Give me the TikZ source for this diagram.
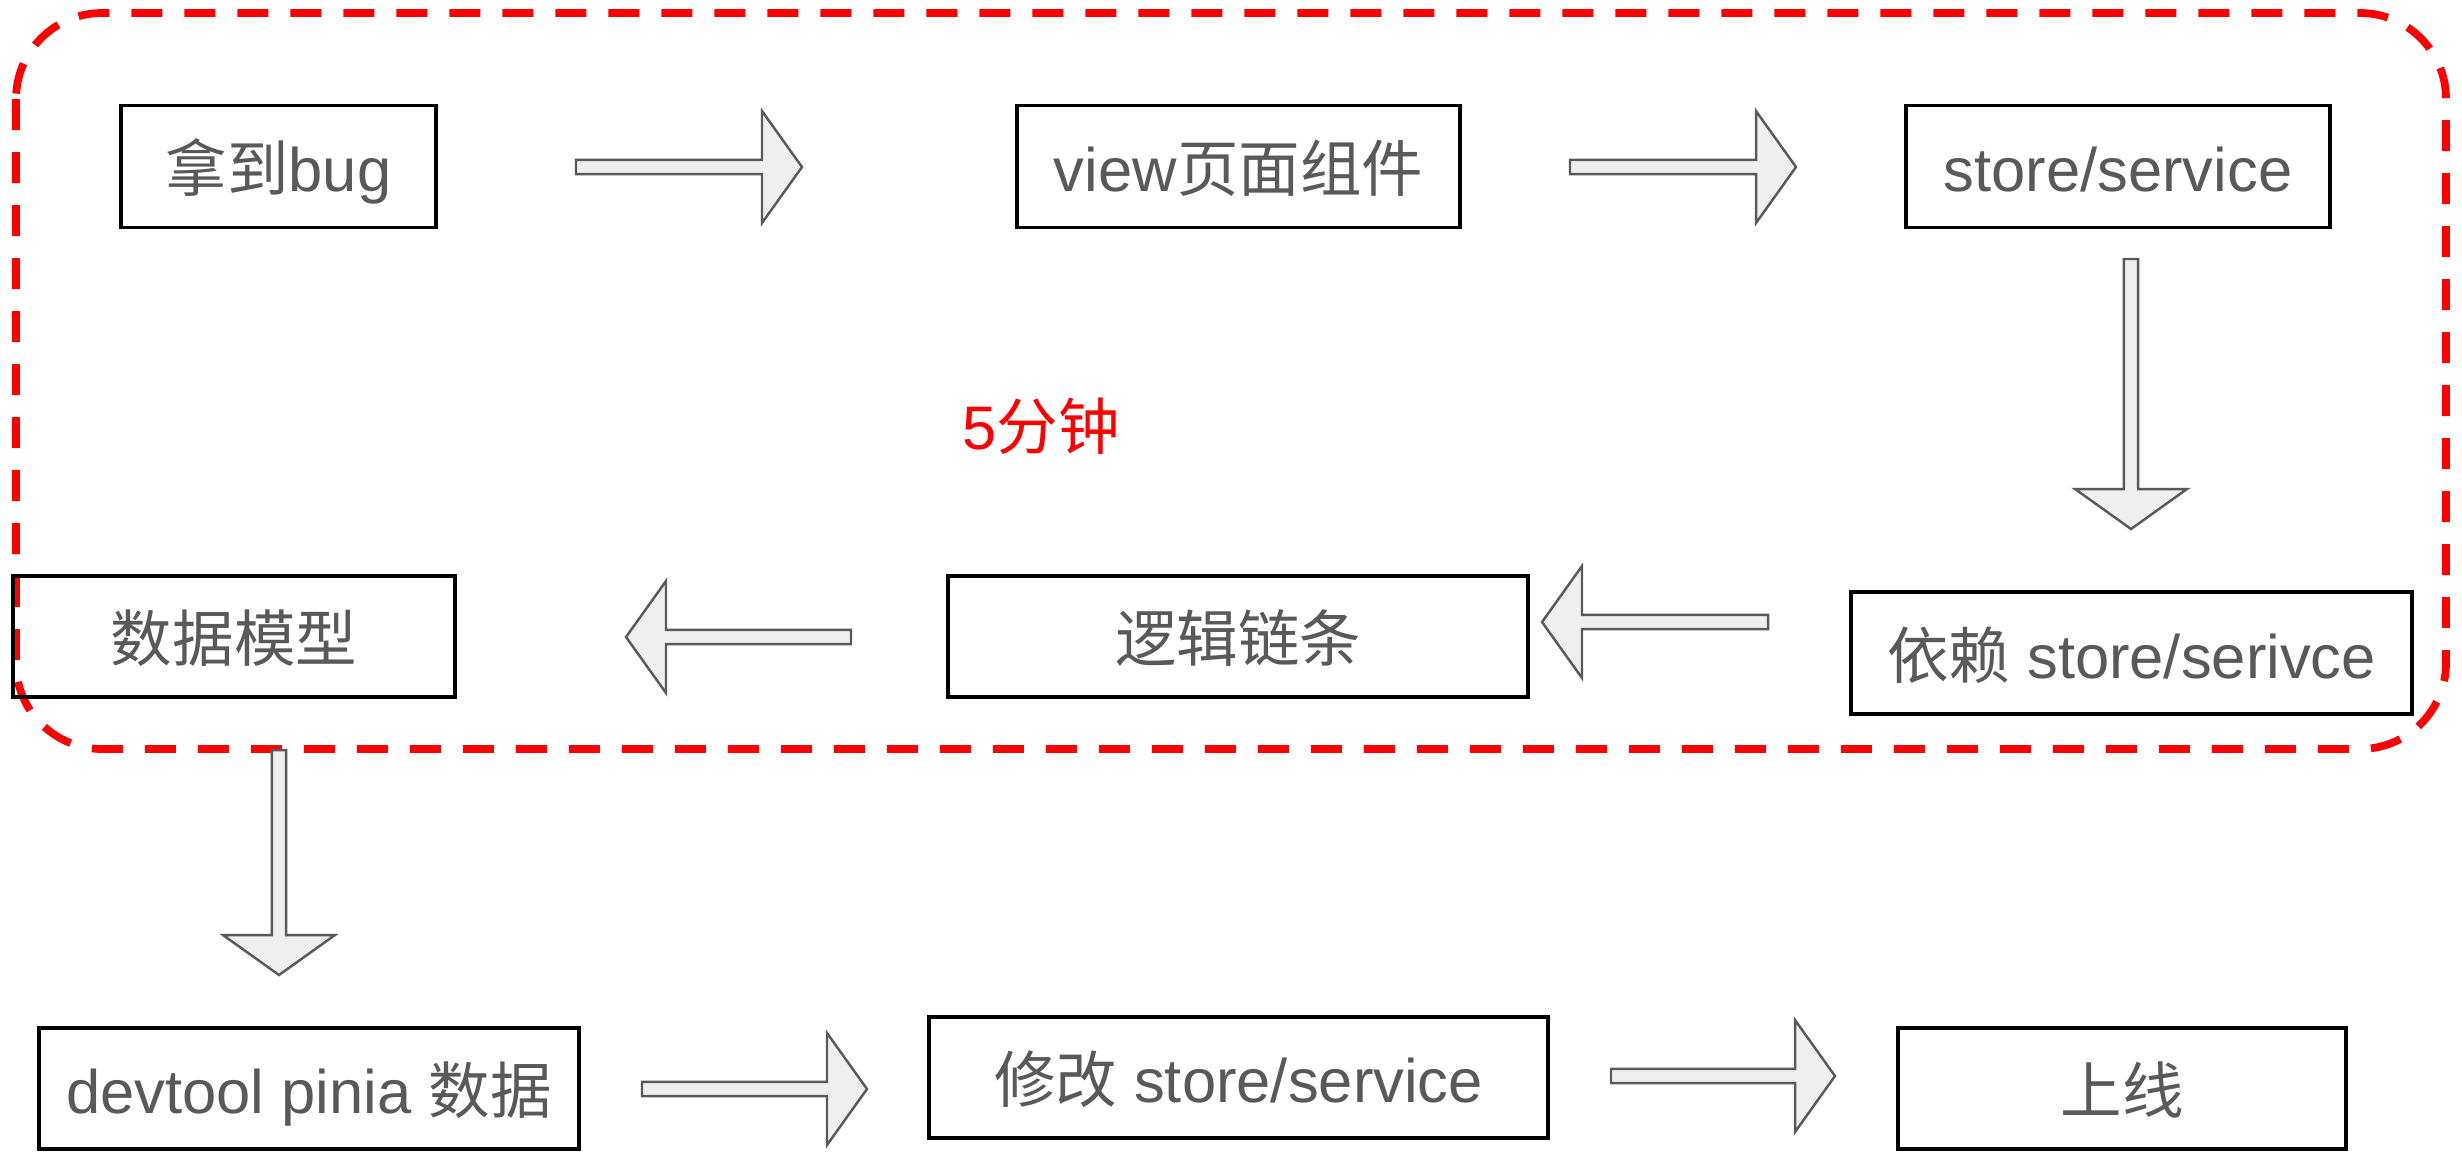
\documentclass[tikz,border=0pt]{standalone}
\usepackage{fontspec}
\setmainfont{Liberation Sans}
\newfontfamily\cjk{Noto Sans CJK SC}
\usetikzlibrary{calc}
\definecolor{textgray}{HTML}{595959}
\definecolor{arrowfill}{HTML}{EFEFEF}
\definecolor{arrowline}{HTML}{5A5A5A}
\definecolor{framered}{HTML}{FF0000}

\def\shaftw{0.072cm}
\def\headw{0.56cm}
\def\headlen{0.40cm}

\tikzset{
  stepbox/.style={draw=black, line width=0.9pt, text=textgray, inner sep=0pt,
    font=\fontsize{17.5}{21}\selectfont, minimum height=1.22cm,
    text height=0.64cm, text depth=0.14cm},
  blockarrow/.style={draw=arrowline, fill=arrowfill, line width=0.7pt, line join=miter,
    to path={
      ($(\tikztostart)!\shaftw!90:(\tikztotarget)$)
      -- ($($(\tikztotarget)!\headlen!(\tikztostart)$)!\shaftw!90:(\tikztotarget)$)
      -- ($($(\tikztotarget)!\headlen!(\tikztostart)$)!\headw!90:(\tikztotarget)$)
      -- (\tikztotarget)
      -- ($($(\tikztotarget)!\headlen!(\tikztostart)$)!\headw!-90:(\tikztotarget)$)
      -- ($($(\tikztotarget)!\headlen!(\tikztostart)$)!\shaftw!-90:(\tikztotarget)$)
      -- ($(\tikztostart)!\shaftw!-90:(\tikztotarget)$)
      -- cycle}},
  timeframe/.style={draw=framered, line width=2.2pt, rounded corners=0.86cm,
    dash pattern=on 0.31cm off 0.22cm},
}

\begin{document}
\begin{tikzpicture}
            \def \ytop     {-1.665};
            \def \ymid     {-6.365};
            \def \ybot     {-10.885};
            \def \xleft    {2.785};
            \def \xmid     {12.385};
            \def \xright   {21.18};

            \useasboundingbox (0,0) rectangle (24.62,-11.68);

% the first five minutes
            \draw [timeframe] (0.16,-0.13) rectangle (24.46,-7.49);
            \node [text=framered, font=\fontsize{17.5}{21}\selectfont] (time) at (10.41,-4.26) {5{\cjk 分钟}};

% steps
            \node [stepbox, minimum width=3.15cm] (bug) at (\xleft, \ytop) {{\cjk 拿到}bug};
            \node [stepbox, minimum width=4.43cm] (view) at (\xmid, \ytop) {view{\cjk 页面组件}};
            \node [stepbox, minimum width=4.24cm] (store) at (\xright, \ytop) {store/service};

            \node [stepbox, minimum width=5.61cm] (dep) at (21.315, -6.53) {{\cjk 依赖} store/serivce};
            \node [stepbox, minimum width=5.80cm, minimum height=1.21cm] (logic) at (12.38, \ymid) {{\cjk 逻辑链条}};
            \node [stepbox, minimum width=4.42cm, minimum height=1.21cm] (model) at (2.34, \ymid) {{\cjk 数据模型}};

            \node [stepbox, minimum width=5.40cm, minimum height=1.21cm] (devtool) at (3.09, \ybot) {devtool pinia {\cjk 数据}};
            \node [stepbox, minimum width=6.19cm, minimum height=1.21cm] (modify) at (\xmid, -10.775) {{\cjk 修改} store/service};
            \node [stepbox, minimum width=4.48cm, minimum height=1.21cm] (online) at (21.22, \ybot) {{\cjk 上线}};

% arrow ends
            \coordinate (a1s) at (5.76, -1.67);   \coordinate (a1t) at (8.02, -1.67);
            \coordinate (a2s) at (15.70, -1.67);  \coordinate (a2t) at (17.96, -1.67);
            \coordinate (d1s) at (21.31, -2.59);  \coordinate (d1t) at (21.31, -5.29);
            \coordinate (l1s) at (17.68, -6.22);  \coordinate (l1t) at (15.42, -6.22);
            \coordinate (l2s) at (8.51, -6.37);   \coordinate (l2t) at (6.26, -6.37);
            \coordinate (d2s) at (2.79, -7.50);   \coordinate (d2t) at (2.79, -9.75);
            \coordinate (a3s) at (6.42, -10.89);  \coordinate (a3t) at (8.67, -10.89);
            \coordinate (a4s) at (16.11, -10.76); \coordinate (a4t) at (18.35, -10.76);

% arrows
            \draw [blockarrow] (a1s) to (a1t);
            \draw [blockarrow] (a2s) to (a2t);
            \draw [blockarrow] (d1s) to (d1t);
            \draw [blockarrow] (l1s) to (l1t);
            \draw [blockarrow] (l2s) to (l2t);
            \draw [blockarrow] (d2s) to (d2t);
            \draw [blockarrow] (a3s) to (a3t);
            \draw [blockarrow] (a4s) to (a4t);
\end{tikzpicture}
\end{document}
